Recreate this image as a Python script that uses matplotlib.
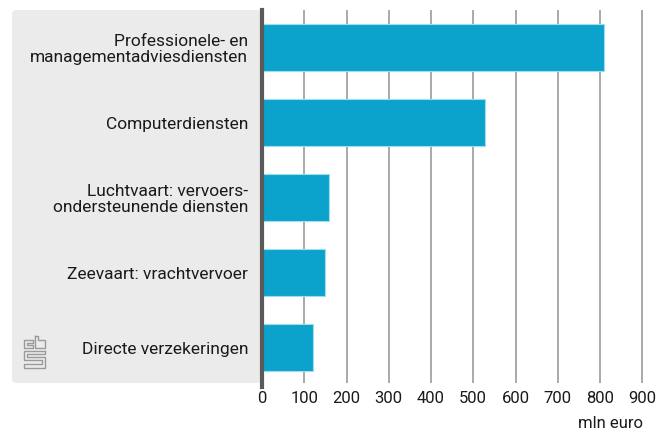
import matplotlib.pyplot as plt
from matplotlib.patches import FancyBboxPatch
from matplotlib.lines import Line2D

categories = ['Professionele- en\nmanagementadviesdiensten',
              'Computerdiensten',
              'Luchtvaart: vervoers-\nondersteunende diensten',
              'Zeevaart: vrachtvervoer',
              'Directe verzekeringen']
values = [810, 528, 159, 150, 121]
ticks = [0, 100, 200, 300, 400, 500, 600, 700, 800, 900]

W, H = 658, 432
plt.rcParams['font.family'] = ['Roboto', 'DejaVu Sans']

fig = plt.figure(figsize=(W / 100, H / 100), dpi=100)

# pixel coords -> figure fraction
def fx(px):
    return px / W

def fy(py):
    return 1 - py / H

panel = FancyBboxPatch((fx(12), fy(383)), fx(262) - fx(12), fy(10) - fy(383),
                       boxstyle='round,pad=0,rounding_size=0.008',
                       transform=fig.transFigure, facecolor='#ebebeb',
                       edgecolor='none', zorder=-5)
fig.patches.append(panel)

ax = fig.add_axes([fx(262), fy(383), fx(655) - fx(262), fy(10) - fy(383)])
ax.set_facecolor('none')
ax.set_xlim(0, 930)
ax.set_ylim(4.47, -0.5)

for t in ticks[1:]:
    ax.axvline(t, color='#a3a3a3', lw=1.3, zorder=1)

ax.barh(range(len(values)), values, height=0.63, color='#0ba3cb',
        edgecolor='#9fdcee', linewidth=0.8, zorder=2)

ax.axvline(0, color='#5a5a5a', lw=3, zorder=3, ymin=-0.012, clip_on=False)

for s in ax.spines.values():
    s.set_visible(False)

ax.set_yticks(range(len(categories)))
ax.set_yticklabels(categories, fontsize=12.5, color='#1a1a1a', linespacing=1.05)
ax.tick_params(axis='y', length=0, pad=10)
ax.set_xticks(ticks)
ax.set_xticklabels([str(t) for t in ticks], fontsize=12, color='#1a1a1a')
ax.tick_params(axis='x', length=0, pad=6)

fig.text(fx(643), fy(424), 'mln euro', ha='right', va='center',
         fontsize=12, color='#1a1a1a')

# cbs logo
logo_col = '#9a9a9a'
paths = [
    # c
    [(33, 340), (24, 340), (24, 348), (33, 348), (33, 345), (27, 345), (27, 343), (33, 343), (33, 340)],
    # b
    [(35, 336), (35, 348), (45, 348), (45, 340), (38, 340), (38, 336), (35, 336)],
    # S
    [(45, 351), (24, 351), (24, 360), (42, 360), (42, 364), (24, 364), (24, 368), (45, 368),
     (45, 357), (27, 357), (27, 354), (45, 354), (45, 351)],
]
for p in paths:
    xs = [fx(x) for x, y in p]
    ys = [fy(y) for x, y in p]
    fig.add_artist(Line2D(xs, ys, color=logo_col, lw=1.0, transform=fig.transFigure))

fig.savefig('out.png', dpi=100)
